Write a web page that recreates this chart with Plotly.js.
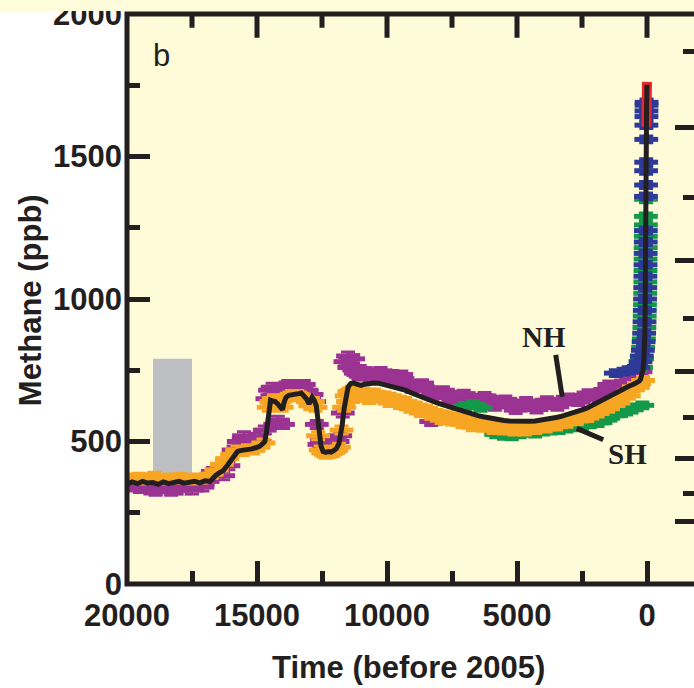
<!DOCTYPE html>
<html>
<head>
<meta charset="utf-8">
<script src="https://cdn.plot.ly/plotly-3.0.1.min.js"></script>
<style>
html,body{margin:0;padding:0;background:#ffffff;overflow:hidden;}
#wrap{position:relative;width:720px;height:688px;}
#chart{width:720px;height:688px;}
#band{position:absolute;left:0;top:0;width:720px;height:11px;background:#fffcdc;z-index:5;}
</style>
</head>
<body>
<div id="wrap"><div id="chart"></div><div id="band"></div></div>
<script>
// ---------- DATA (years before 2005, methane ppb) ----------
var purpleX = [19900,19700,19500,19300,19100,18900,18700,18500,18300,18100,17900,17700,17500,17300,17100,16900,16700,16500,16300,16100,15900,15700,15500,15300,15100,14900,14700,
  14600,14500,14400,14300,14200,14100,14000,13900,13800,13700,13600,13500,13400,13300,13200,13100,13000,12900,12800,
  12700,12600,12500,12400,12300,12200,12100,12000,11900,11800,11700,
  11600,11500,11400,11300,11200,11100,11000,10800,10600,10400,10200,10000,9800,9600,9400,9200,9000,8800,8600,8400,8300,8200,8100,8000,
  7800,7600,7400,7200,7000,6800,6600,6400,6200,6000,5800,5600,5400,5200,5000,4800,4600,4400,4200,4000,
  3800,3600,3400,3200,3000,2800,2600,2400,2200,2000,1800,1600,1400,1200,1000,800,600,400,250];
var purpleY = [345,340,335,345,330,325,340,335,325,330,340,345,330,350,340,360,395,405,380,415,470,500,520,505,515,500,540,
  650,680,690,560,575,680,560,695,700,690,700,695,685,690,700,680,650,665,640,
  560,490,505,475,480,500,485,470,500,520,600,
  780,800,760,790,740,735,730,745,735,740,730,725,735,715,720,700,700,695,690,680,570,675,575,670,
  665,660,662,655,655,650,652,648,650,645,640,635,632,628,630,625,628,630,627,632,
  630,635,638,642,645,648,652,655,660,665,672,678,685,692,700,712,722,735,745];
var purple2X = [11450,11050,10650,10250,9850,9450,9050,8650,8250,7850,7450,7050,6650,6250,5850,5450,5050,4650,4250,3850,3450,3050,2650,2250,1850,1450,1050,650];
var purple2Y = [760,755,720,748,712,735,685,705,660,680,640,668,636,660,622,648,610,642,612,645,622,655,638,670,652,700,690,735];

var orangeX = [19950,19750,19550,19350,19150,18950,18750,18550,18350,18150,17950,17750,17550,17350,17150,16950,16750,16550,16350,16150,15950,15750,15550,15350,15150,14950,14750,
  14550,14450,14350,14250,14150,14050,13950,13850,13750,13650,13550,13450,13350,13250,13150,13050,12950,12850,12750,
  12650,12550,12450,12350,12250,12150,12050,11950,11850,11750,11650,
  11550,11450,11350,11250,11150,11050,10900,10700,10500,10300,10100,9900,9700,9500,9300,9100,
  8900,8700,8500,8300,8100,7900,7700,7500,7300,7100,6900,6700,6500,6300,6100,5900,5700,5500,5300,5100,
  4900,4700,4500,4300,4100,3900,3700,3500,3300,3100,2900,2700,2500,2300,2100,1900,1700,1500,1300,1100,
  900,700,500,300,150];
var orangeY = [372,368,375,365,372,378,370,365,372,368,375,370,365,372,368,375,385,400,420,440,455,470,465,475,470,480,495,
  620,640,650,630,640,620,650,655,660,665,660,665,660,655,650,640,625,640,620,
  520,470,460,455,458,460,462,470,480,540,620,
  660,675,680,670,665,668,672,665,670,662,660,655,650,645,640,630,
  625,618,612,605,598,594,590,586,582,578,572,568,565,562,558,556,553,550,548,548,
  546,548,550,553,556,560,563,567,572,577,582,588,594,600,607,614,623,631,642,652,
  663,677,692,703,714];
var orange2X = [11500,11100,10700,10300,9900,9500,9100,8700,8300,7900,7500,7100,6700,6300,5900,5500,5100,4700,4300,3900,3500,3100,2700,2300,1900,1500,1100,700,350];
var orange2Y = [640,655,645,650,635,628,615,600,590,575,570,560,550,548,540,538,535,535,540,545,552,562,572,582,598,615,635,660,690];

var greenX = [7000,6700,6400,5800,5500,5200,4900,4600,4300,4000,3700,3400,3100,2800,2500,2200,1900,1600,1300,1000,800,600,400,180,
  230,190,150,120,100,88,78,70,64,58,54,50,46,43,41,38];
var greenY = [625,630,618,525,520,518,525,530,528,535,538,540,545,550,555,560,565,575,590,600,605,612,620,627,
  760,790,830,860,900,940,980,1020,1060,1100,1140,1180,1220,1260,1290,1350];

var blueX = [1200,900,700,500,350,250,200,160,130,110,95,85,75,68,62,56,52,48,44,40,37,34,31,28,24,22,20,18,16];
var blueY = [740,745,750,755,760,780,800,820,850,880,920,960,1000,1040,1080,1120,1160,1200,1240,1360,1400,1450,1480,1560,1610,1640,1660,1680,1690];

var redX = [27,24,20,16,12,8,4,0];
var redY = [1605,1640,1680,1710,1735,1750,1758,1762];

var curveX = [20000,19800,19600,19400,19200,19000,18800,18600,18400,18200,18000,17800,17600,17400,17200,17000,16800,16700,16600,16450,16300,16150,16050,15950,15850,15750,15650,15500,15350,15200,15050,14900,14780,14700,14640,14580,14530,14480,14400,14300,14200,14100,14020,13950,13880,13780,13650,13500,13400,13300,13200,13100,13000,12950,12880,12800,12720,12660,12600,12540,12460,12350,12250,12150,12050,11950,11850,11780,11720,11650,11580,11500,11400,11300,11200,11100,11000,10900,10800,10700,10500,10300,10100,9900,9700,9500,9300,9100,8900,8700,8500,8300,8100,7900,7700,7500,7300,7100,6900,6700,6500,6300,6100,5900,5700,5500,5300,5100,4900,4700,4500,4300,4100,3900,3700,3500,3300,3100,2900,2700,2500,2300,2100,1900,1700,1500,1300,1100,900,700,500,400,300,250,200,160,130,110,95,85,75,65,55,48,42,36,30,25,20,15,10,5,0];
var curveY = [350,358,352,360,354,356,350,358,352,355,360,354,358,360,355,362,360,372,380,390,398,415,428,440,452,465,468,470,468,474,478,483,492,500,530,580,630,645,642,640,632,620,612,640,655,662,665,670,668,670,660,650,632,645,655,645,625,580,530,485,465,462,465,463,468,475,492,520,560,615,660,690,703,706,702,698,697,700,702,705,705,704,700,694,690,685,680,672,664,656,650,643,636,630,624,618,612,606,601,596,591,587,583,579,576,574,572,571,570,570,571,572,574,577,580,584,588,593,599,605,611,618,628,638,648,658,668,678,686,694,702,706,712,718,730,750,775,800,830,870,920,990,1090,1170,1260,1360,1460,1550,1620,1680,1720,1745,1752];

var lgmBoxX = [19000, 17500];
var lgmBoxY = [310, 790];

var xTickVals = [20000,15000,10000,5000,0];
var xTickText = ['20000','15000','10000','5000','0'];
var xMinorVals = [17500,12500,7500,2500];
var yTickVals = [0,500,1000,1500,2000];
var yMinorVals = [250,750,1250,1750];
var rightMajorVals = [218,439,745,1134,1601];
var rightMinorVals = [316,583,931,1356,1868];

var nhPointer = {x:[3510,3260], y:[804,657]};
var shPointer = {x:[2702,1682], y:[546,506]};

// ---------- STYLE ----------
var INK = '#231f20';
var BG = '#fffbd9';
var PURPLE = '#9b3393', ORANGE = '#f6a623', GREEN = '#14994a', BLUE = '#2e3a97', RED = '#e8282b';
var Y_TOP = 1999;

// top-edge ticks drawn as arrow-only annotations (pixel lengths ~25 / ~15)
var topTickAnn = [];
xTickVals.forEach(function(v){
  if (v === 20000) return;
  topTickAnn.push({x:v, y:Y_TOP, xref:'x', yref:'y', text:'', showarrow:true, arrowhead:0, arrowwidth:5, arrowcolor:INK,
    ax:0, ay:25, standoff:0, startstandoff:0});
});
xMinorVals.forEach(function(v){
  topTickAnn.push({x:v, y:Y_TOP, xref:'x', yref:'y', text:'', showarrow:true, arrowhead:0, arrowwidth:5, arrowcolor:INK,
    ax:0, ay:15, standoff:0, startstandoff:0});
});

function pts(x, y, col, err){
  return {x:x, y:y, type:'scatter', mode:'markers', hoverinfo:'skip', showlegend:false,
    marker:{symbol:'line-ew', size:17, color:col, line:{color:col, width:5}},
    error_y:{type:'constant', value:err, color:col, thickness:3, width:7}};
}
var traces = [
  pts(purpleX, purpleY, PURPLE, 14),
  pts(purple2X, purple2Y, PURPLE, 12),
  pts(greenX, greenY, GREEN, 12),
  pts(orangeX, orangeY, ORANGE, 14),
  pts(orange2X, orange2Y, ORANGE, 12),
  pts(blueX, blueY, BLUE, 12),
  {x:redX, y:redY, type:'scatter', mode:'lines', line:{color:RED, width:10}, hoverinfo:'skip', showlegend:false, xaxis:'x', yaxis:'y2'},
  {x:curveX, y:curveY, type:'scatter', mode:'lines', line:{color:INK, width:5}, hoverinfo:'skip', showlegend:false, xaxis:'x', yaxis:'y2'}
];

var tickFont = {family:'Liberation Sans, Arial, sans-serif', size:31, color:INK, weight:'bold'};
var layout = {
  width:720, height:688,
  margin:{l:127, r:21, t:14, b:104, pad:0},
  paper_bgcolor:'rgba(0,0,0,0)', plot_bgcolor:BG,
  showlegend:false,
  xaxis:{range:[20000,-2000], showgrid:false, zeroline:false, showline:false,
    tickmode:'array', tickvals:xTickVals, ticktext:xTickText, ticks:'inside', ticklen:23, tickwidth:5, tickcolor:INK,
    ticklabelstandoff:10, ticklabeloverflow:'allow',
    minor:{tickmode:'array', tickvals:xMinorVals, ticks:'inside', ticklen:13, tickwidth:5, tickcolor:INK},
    tickfont:tickFont},
  yaxis:{range:[0,2000], showgrid:false, zeroline:false, showline:false,
    tickmode:'array', tickvals:yTickVals, ticks:'inside', ticklen:23, tickwidth:5, tickcolor:INK,
    ticklabelstandoff:4, ticklabeloverflow:'allow',
    minor:{tickmode:'array', tickvals:yMinorVals, ticks:'inside', ticklen:13, tickwidth:5, tickcolor:INK},
    tickfont:tickFont},
  yaxis2:{range:[0,2000], overlaying:'y', side:'right', anchor:'x', showgrid:false, zeroline:false, showline:false,
    showticklabels:false, tickmode:'array', tickvals:rightMajorVals, ticks:'inside', ticklen:24, tickwidth:5, tickcolor:INK,
    minor:{tickmode:'array', tickvals:rightMinorVals, ticks:'inside', ticklen:16, tickwidth:5, tickcolor:INK}},
  shapes:[
    {type:'rect', layer:'below', xref:'x', yref:'y', x0:lgmBoxX[0], x1:lgmBoxX[1], y0:lgmBoxY[0], y1:lgmBoxY[1], fillcolor:'#bebfc3', line:{width:0}},
    {type:'rect', layer:'above', xref:'paper', yref:'paper', x0:0, x1:1, y0:0, y1:1, line:{color:INK, width:5}},
    {type:'line', layer:'above', xref:'x', yref:'y', x0:nhPointer.x[0], x1:nhPointer.x[1], y0:nhPointer.y[0], y1:nhPointer.y[1], line:{color:INK, width:5}},
    {type:'line', layer:'above', xref:'x', yref:'y', x0:shPointer.x[0], x1:shPointer.x[1], y0:shPointer.y[0], y1:shPointer.y[1], line:{color:INK, width:5}}
  ],
  annotations:[
    {text:'b', xref:'x', yref:'y', x:18673, y:1856, showarrow:false, xanchor:'center', yanchor:'middle',
      font:{family:'Liberation Sans, Arial, sans-serif', size:31, color:INK}},
    {text:'NH', xref:'x', yref:'y', x:3962, y:867, showarrow:false, xanchor:'center', yanchor:'middle',
      font:{family:'Liberation Serif, Times New Roman, serif', size:29, color:INK, weight:'bold'}},
    {text:'SH', xref:'x', yref:'y', x:731, y:456, showarrow:false, xanchor:'center', yanchor:'middle',
      font:{family:'Liberation Serif, Times New Roman, serif', size:29, color:INK, weight:'bold'}},
    {text:'Time (before 2005)', xref:'paper', yref:'paper', x:0.4913, y:-0.147, showarrow:false, xanchor:'center', yanchor:'middle',
      font:{family:'Liberation Sans, Arial, sans-serif', size:31, color:INK, weight:'bold'}},
    {text:'Methane (ppb)', xref:'paper', yref:'paper', x:-0.1696, y:0.498, showarrow:false, xanchor:'center', yanchor:'middle', textangle:-90,
      font:{family:'Liberation Sans, Arial, sans-serif', size:31, color:INK, weight:'bold'}}
  ].concat(topTickAnn)
};
Plotly.newPlot('chart', traces, layout, {displayModeBar:false, staticPlot:true});
</script>
</body>
</html>
